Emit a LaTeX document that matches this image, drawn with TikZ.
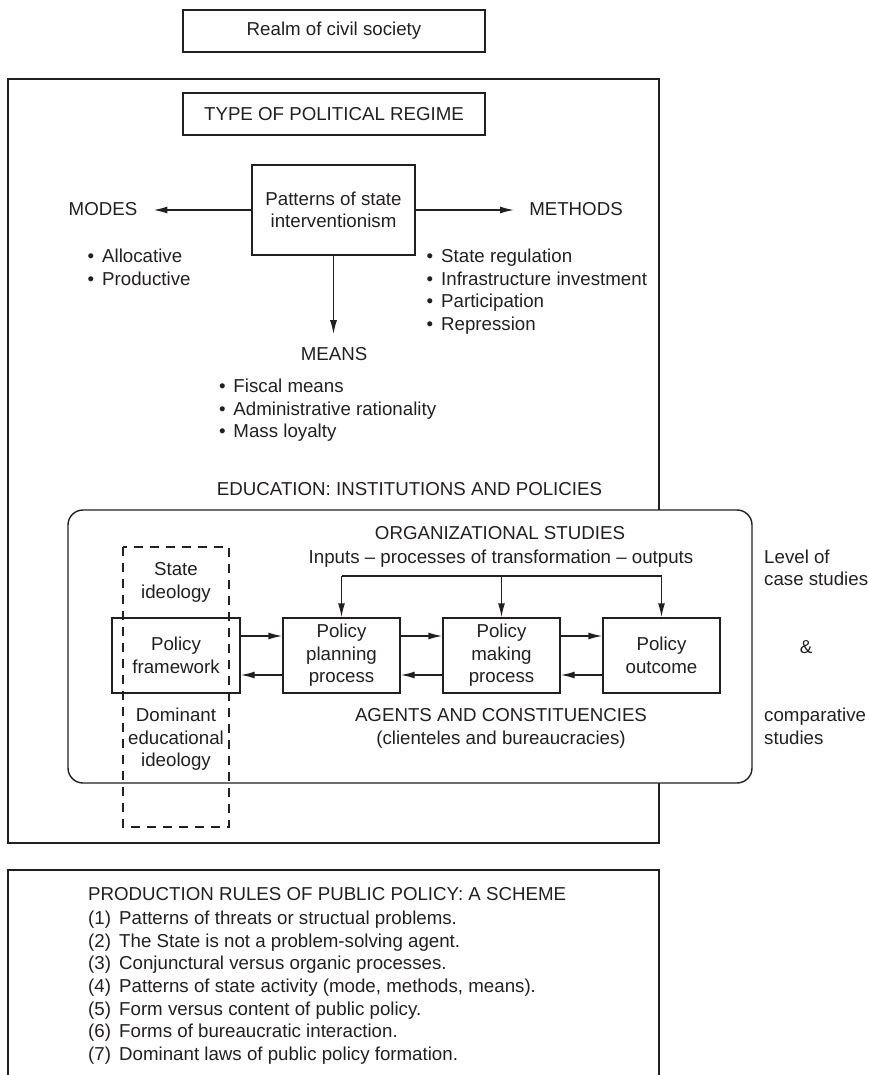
\documentclass[tikz,border=0pt]{standalone}
\usepackage{fontspec}
\setmainfont{Liberation Sans}
\usetikzlibrary{arrows.meta}
\definecolor{ink}{RGB}{35,31,32}
\newcommand\itembul{\makebox[14.5pt][l]{•}}
\newcommand\itemnum[1]{\makebox[31pt][l]{(#1)}}
\begin{document}
\begin{tikzpicture}[x=1pt,y=-1pt,
  every node/.style={font=\fontsize{18.7}{22.6}\selectfont, text=ink},
  box/.style={draw=ink, line width=1.4pt, inner sep=0pt, align=center},
  lbl/.style={inner sep=0pt},
  ln/.style={draw=ink, line width=1.4pt},
  arr/.style={draw=ink, line width=1.4pt, -{Latex[length=14pt,width=7pt]}},
]
\useasboundingbox (0,0) rectangle (869,1075);

% ---- civil society ----
\node[box, minimum width=302pt, minimum height=42pt] (realm) at (334,31) {Realm of civil society};

% ---- political regime frame ----
\draw[ln] (8,79) rectangle (659,843);
\node[box, minimum width=302pt, minimum height=42pt] (regime) at (334,114) {TYPE OF POLITICAL REGIME};
\node[box, minimum width=163pt, minimum height=90pt] (pat) at (333.5,210) {Patterns of state\\interventionism};

\node[lbl] (modes) at (103,209) {MODES};
\node[lbl] (methods) at (576,209) {METHODS};
\node[lbl] (means) at (334,354) {MEANS};

\draw[arr, shorten >=16pt] (pat.west) -- (pat.west -| modes.east);
\draw[arr, shorten >=15pt] (pat.east) -- (pat.east -| methods.west);
\draw[arr, shorten >=13pt] (pat.south) -- (pat.south |- means.north);

% modes
\node[lbl, anchor=base west] (mo1) at (87.5,262.5) {\itembul Allocative};
\node[lbl, anchor=base west] (mo2) at (87.5,285.5) {\itembul Productive};
% methods
\node[lbl, anchor=base west] (me1) at (426.5,262.5) {\itembul State regulation};
\node[lbl, anchor=base west] (me2) at (426.5,285.2) {\itembul Infrastructure investment};
\node[lbl, anchor=base west] (me3) at (426.5,307.9) {\itembul Participation};
\node[lbl, anchor=base west] (me4) at (426.5,330.6) {\itembul Repression};
% means
\node[lbl, anchor=base west] (mn1) at (218.8,392.5) {\itembul Fiscal means};
\node[lbl, anchor=base west] (mn2) at (218.8,415.0) {\itembul Administrative rationality};
\node[lbl, anchor=base west] (mn3) at (218.8,437.5) {\itembul Mass loyalty};

\node[lbl, anchor=base] (edutitle) at (409.5,495.5) {EDUCATION: INSTITUTIONS AND POLICIES};

% ---- education: institutions and policies ----
\node[box, rounded corners=15pt, fill=white, minimum width=684pt, minimum height=273pt] (edu) at (410,646.5) {};

\node[lbl, anchor=base] (org) at (500,539.5) {ORGANIZATIONAL STUDIES};
\node[lbl, anchor=base] (io) at (501,563.5) {Inputs – processes of transformation – outputs};
\node[lbl, anchor=base] (agents) at (501,721.5) {AGENTS AND CONSTITUENCIES};
\node[lbl, anchor=base] (cli) at (501,744.5) {(clienteles and bureaucracies)};

\node[box, minimum width=128pt, minimum height=75pt] (fw) at (176,655.5) {Policy\\framework};
\node[box, minimum width=117pt, minimum height=75pt] (pp) at (341.5,655.5) {Policy\\planning\\process};
\node[box, minimum width=117pt, minimum height=75pt] (pm) at (501.5,655.5) {Policy\\making\\process};
\node[box, minimum width=117pt, minimum height=75pt] (po) at (661.5,655.5) {Policy\\outcome};

% forward and backward flows
\draw[arr] ([yshift=19.5pt]fw.east) -- ([yshift=19.5pt]pp.west);
\draw[arr] ([yshift=19.5pt]pp.east) -- ([yshift=19.5pt]pm.west);
\draw[arr] ([yshift=19.5pt]pm.east) -- ([yshift=19.5pt]po.west);
\draw[arr] ([yshift=-19.5pt]po.west) -- ([yshift=-19.5pt]pm.east);
\draw[arr] ([yshift=-19.5pt]pm.west) -- ([yshift=-19.5pt]pp.east);
\draw[arr] ([yshift=-19.5pt]pp.west) -- ([yshift=-19.5pt]fw.east);

% organizational inputs
\coordinate (fb) at (0,576);
\draw[ln] (pp.north |- fb) -- (po.north |- fb);
\draw[arr] (pp.north |- fb) -- (pp.north);
\draw[arr] (pm.north |- fb) -- (pm.north);
\draw[arr] (po.north |- fb) -- (po.north);

% ideologies
\node[lbl, anchor=base] (si1) at (176,575.5) {State};
\node[lbl, anchor=base] (si2) at (176,598.5) {ideology};
\node[lbl, anchor=base] (de1) at (176,721.5) {Dominant};
\node[lbl, anchor=base] (de2) at (176,744.5) {educational};
\node[lbl, anchor=base] (de3) at (176,766.5) {ideology};
\draw[draw=ink, line width=1.4pt, dash pattern=on 9pt off 7pt] (123,547) rectangle (229,827);

% level of analysis
\node[lbl, anchor=base west] (lv1) at (764,563.5) {Level of};
\node[lbl, anchor=base west] (lv2) at (764,585.5) {case studies};
\node[lbl, anchor=base] (amp) at (806,653.5) {\&};
\node[lbl, anchor=base west] (lv3) at (764,721.5) {comparative};
\node[lbl, anchor=base west] (lv4) at (764,744.5) {studies};

% ---- production rules ----
\draw[ln] (8,1075) -- (8,870) -- (659,870) -- (659,1075);
\node[lbl, anchor=base west] (rules) at (88,900.5) {PRODUCTION RULES OF PUBLIC POLICY: A SCHEME};
\node[lbl, anchor=base west] (r1) at (88,924.5) {\itemnum{1}Patterns of threats or structual problems.};
\node[lbl, anchor=base west] (r2) at (88,947.2) {\itemnum{2}The State is not a problem-solving agent.};
\node[lbl, anchor=base west] (r3) at (88,969.8) {\itemnum{3}Conjunctural versus organic processes.};
\node[lbl, anchor=base west] (r4) at (88,992.5) {\itemnum{4}Patterns of state activity (mode, methods, means).};
\node[lbl, anchor=base west] (r5) at (88,1015.2) {\itemnum{5}Form versus content of public policy.};
\node[lbl, anchor=base west] (r6) at (88,1037.8) {\itemnum{6}Forms of bureaucratic interaction.};
\node[lbl, anchor=base west] (r7) at (88,1060.5) {\itemnum{7}Dominant laws of public policy formation.};
\end{tikzpicture}
\end{document}
